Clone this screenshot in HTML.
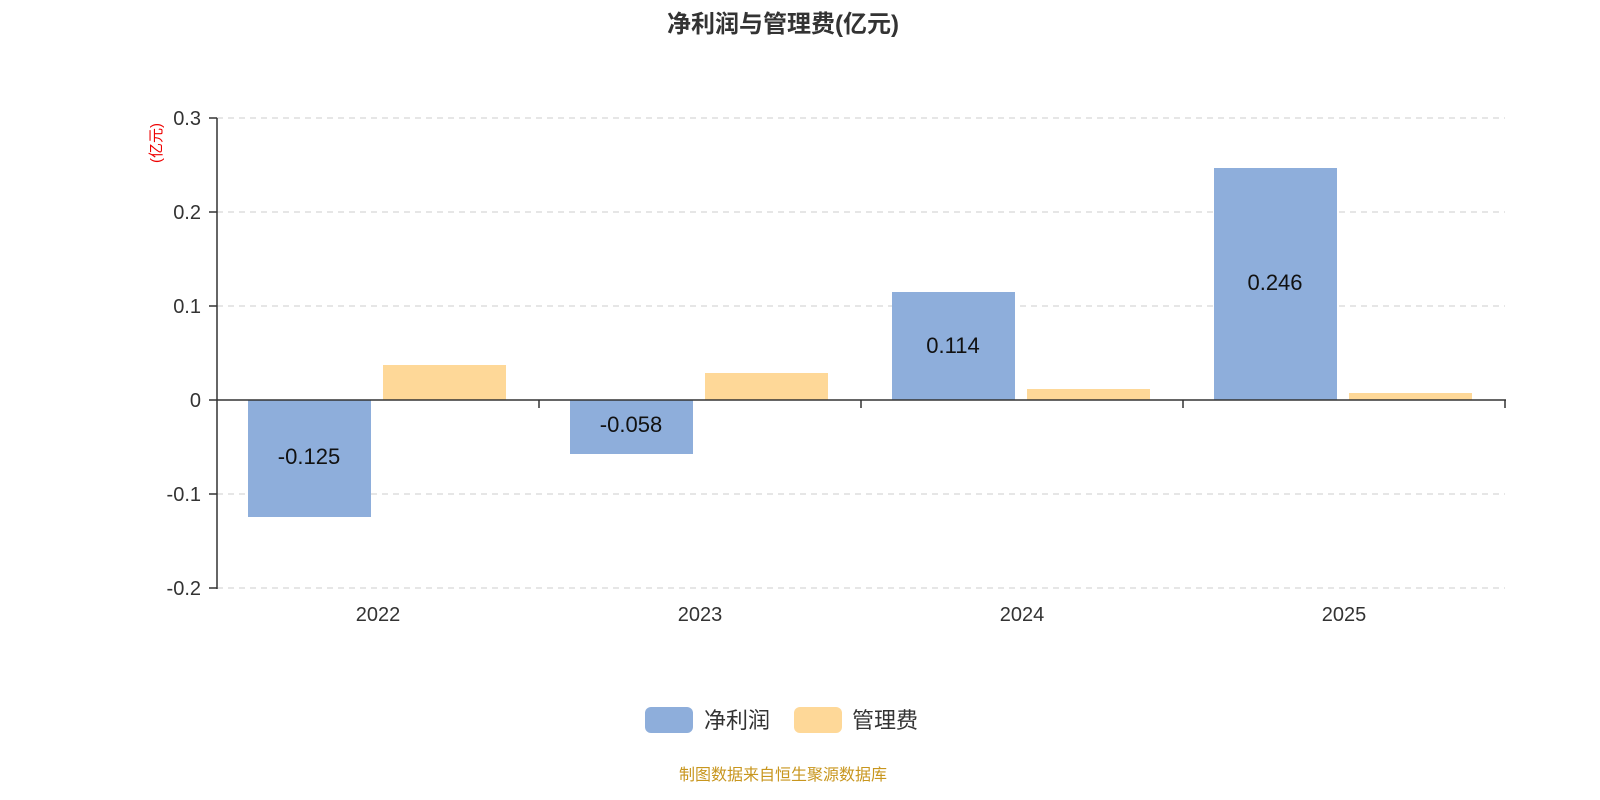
<!DOCTYPE html>
<html><head><meta charset="utf-8"><style>
html,body{margin:0;padding:0;background:#fff;overflow:hidden;width:1600px;height:800px;}
svg{display:block;}
svg text{font-family:"Liberation Sans","Noto Sans CJK SC",sans-serif;}
</style></head><body>
<svg width="1600" height="800" xmlns="http://www.w3.org/2000/svg">
<rect width="1600" height="800" fill="#fff"/>
<text x="783" y="32" text-anchor="middle" font-size="24" font-weight="bold" fill="#333">净利润与管理费(亿元)</text>
<g stroke="#ccc" stroke-dasharray="6,5" stroke-width="1">
<line x1="217" y1="118" x2="1505" y2="118"/>
<line x1="217" y1="212" x2="1505" y2="212"/>
<line x1="217" y1="306" x2="1505" y2="306"/>
<line x1="217" y1="494" x2="1505" y2="494"/>
<line x1="217" y1="588" x2="1505" y2="588"/>
</g>
<g font-size="20" fill="#333" text-anchor="end">
<text x="201" y="125">0.3</text>
<text x="201" y="219">0.2</text>
<text x="201" y="313">0.1</text>
<text x="201" y="407">0</text>
<text x="201" y="501">-0.1</text>
<text x="201" y="595">-0.2</text>
</g>
<text transform="translate(161,143) rotate(-90)" text-anchor="middle" font-size="15" fill="#e00">(亿元)</text>
<g fill="#8eaedb">
<rect x="248" y="400" width="123" height="117"/>
<rect x="570" y="400" width="123" height="54"/>
<rect x="892" y="292" width="123" height="108"/>
<rect x="1214" y="168" width="123" height="232"/>
</g>
<g fill="#fed898">
<rect x="383" y="365" width="123" height="35"/>
<rect x="705" y="373" width="123" height="27"/>
<rect x="1027" y="389" width="123" height="11"/>
<rect x="1349" y="393" width="123" height="7"/>
</g>
<g font-size="22" fill="#111" text-anchor="middle">
<text x="309" y="464">-0.125</text>
<text x="631" y="432">-0.058</text>
<text x="953" y="353">0.114</text>
<text x="1275" y="290">0.246</text>
</g>
<g stroke="#333" stroke-width="1.5">
<line x1="217" y1="118" x2="217" y2="589"/>
<line x1="209" y1="118" x2="217" y2="118"/>
<line x1="209" y1="212" x2="217" y2="212"/>
<line x1="209" y1="306" x2="217" y2="306"/>
<line x1="209" y1="400" x2="217" y2="400"/>
<line x1="209" y1="494" x2="217" y2="494"/>
<line x1="209" y1="588" x2="217" y2="588"/>
<line x1="217" y1="400" x2="1506" y2="400"/>
<line x1="539" y1="400" x2="539" y2="408"/>
<line x1="861" y1="400" x2="861" y2="408"/>
<line x1="1183" y1="400" x2="1183" y2="408"/>
<line x1="1505" y1="400" x2="1505" y2="408"/>
</g>
<g font-size="20" fill="#333" text-anchor="middle">
<text x="378" y="621">2022</text>
<text x="700" y="621">2023</text>
<text x="1022" y="621">2024</text>
<text x="1344" y="621">2025</text>
</g>
<rect x="645" y="707" width="48" height="26" rx="6" fill="#8eaedb"/>
<text x="704" y="728" font-size="22" fill="#333">净利润</text>
<rect x="794" y="707" width="48" height="26" rx="6" fill="#fed898"/>
<text x="852" y="728" font-size="22" fill="#333">管理费</text>
<text x="783" y="780" text-anchor="middle" font-size="16" fill="#c8961e">制图数据来自恒生聚源数据库</text>
</svg>
</body></html>
